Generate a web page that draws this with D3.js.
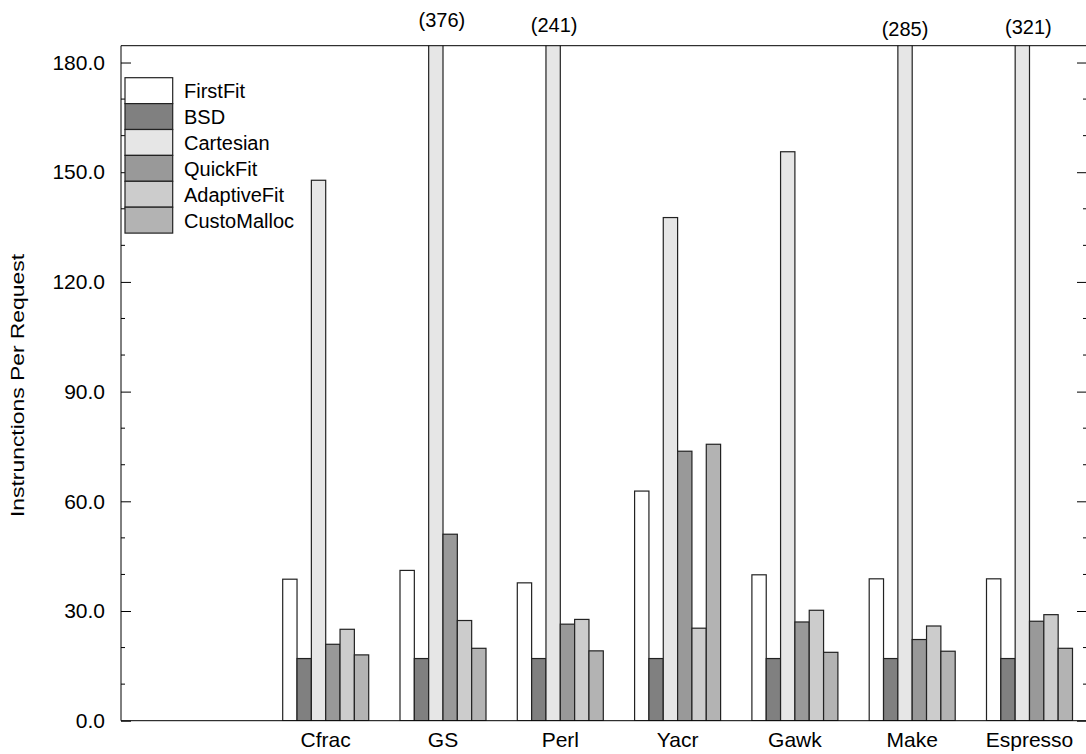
<!DOCTYPE html>
<html><head><meta charset="utf-8">
<script src="https://cdn.jsdelivr.net/npm/d3@7"></script>
<style>
body{margin:0;background:#fff}
text{font-family:"Liberation Sans",Arial,Helvetica,sans-serif;fill:#000}
</style>
</head><body>
<svg id="c" width="1086" height="754"></svg>
<script>
// ---- data ----
const categories = ["Cfrac","GS","Perl","Yacr","Gawk","Make","Espresso"];
const series = ["FirstFit","BSD","Cartesian","QuickFit","AdaptiveFit","CustoMalloc"];
const firstFit    = [38.7, 41.1, 37.7, 62.8, 39.9, 38.8, 38.8];
const bsd         = [17.0, 17.0, 17.0, 17.0, 17.0, 17.0, 17.0];
const cartesian   = [147.8, 376, 241, 137.6, 155.6, 285, 321];
const quickFit    = [20.9, 51.0, 26.4, 73.7, 27.0, 22.2, 27.2];
const adaptiveFit = [25.0, 27.4, 27.7, 25.3, 30.2, 25.9, 29.0];
const custoMalloc = [18.0, 19.8, 19.1, 75.6, 18.7, 19.0, 19.8];
const yTicks = [0, 30, 60, 90, 120, 150, 180];
const yLabel = "Instrunctions Per Request";

// ---- styles ----
const colors = ["#ffffff","#808080","#e6e6e6","#999999","#cccccc","#b3b3b3"];
const labelNudge = {GS:{dx:6,y:27}, Perl:{dx:1,y:32}, Make:{dx:0,y:36}, Espresso:{dx:6,y:34}};

const values = [firstFit, bsd, cartesian, quickFit, adaptiveFit, custoMalloc];
const table = categories.map((c,i)=>({cat:c, vals: series.map((s,j)=>({s, j, v: values[j][i]}))}));

const svg = d3.select("#c");
const L = 121, R = 1087, T = 45.7, B = 720.7;
const yMax = 184.6;
const y = d3.scaleLinear().domain([0, yMax]).range([B, T]);
const x = d3.scaleBand().domain(categories).range([267.05, 1088.15]).paddingInner(0.2668).paddingOuter(0.1334);
const xs = d3.scaleBand().domain(series).range([0, x.bandwidth()]);

svg.append("defs").append("clipPath").attr("id","plot")
  .append("rect").attr("x",L).attr("y",T).attr("width",R-L).attr("height",B-T);

// bars
const g = svg.append("g").attr("clip-path","url(#plot)");
g.selectAll("g.grp").data(table).join("g").attr("class","grp")
  .attr("transform", d=>`translate(${x(d.cat)},0)`)
  .selectAll("rect").data(d=>d.vals).join("rect")
  .attr("x", d=>xs(d.s)).attr("width", xs.bandwidth())
  .attr("y", d=>y(Math.min(d.v, yMax+5))).attr("height", d=>B - y(Math.min(d.v, yMax+5)))
  .attr("fill", d=>colors[d.j]).attr("stroke","#222").attr("stroke-width",1.2);

// overflow labels
table.forEach(d=>{
  d.vals.forEach(b=>{
    if (b.v > yMax) {
      const n = labelNudge[d.cat] || {dx:0,y:30};
      svg.append("text").attr("x", x(d.cat)+xs(b.s)+xs.bandwidth()/2+n.dx).attr("y", n.y)
        .attr("text-anchor","middle").attr("font-size",20).text(`(${b.v})`);
    }
  });
});

// frame
svg.append("line").attr("x1",L).attr("x2",R).attr("y1",T).attr("y2",T).attr("stroke","#000").attr("stroke-width",1);
svg.append("line").attr("x1",L).attr("x2",R).attr("y1",B).attr("y2",B).attr("stroke","#000").attr("stroke-width",1);

// y axis left (ticks inward)
const minor = d3.range(0, yMax, 10);
const axL = d3.axisLeft(y).tickValues(yTicks).tickSize(-10).tickPadding(16).tickFormat(d3.format(".1f"));
const gl = svg.append("g").attr("transform",`translate(${L},0)`).call(axL);
gl.select(".domain").attr("d",`M0,${T}V${B}`).attr("stroke","#000");
gl.selectAll(".tick text").attr("font-size",21).attr("font-family","Liberation Sans, Arial, sans-serif").attr("fill","#000");
gl.selectAll(".tick line").attr("stroke","#000");
svg.append("g").attr("transform",`translate(${L},0)`).selectAll("line").data(minor.filter(v=>!yTicks.includes(v))).join("line")
  .attr("x1",0).attr("x2",4).attr("y1",d=>y(d)).attr("y2",d=>y(d)).attr("stroke","#000");

// y axis right
const axR = d3.axisRight(y).tickValues(yTicks).tickSize(-10).tickFormat("");
const gr = svg.append("g").attr("transform",`translate(${R},0)`).call(axR);
gr.select(".domain").attr("d",`M0,${T}V${B}`).attr("stroke","#000");
gr.selectAll(".tick line").attr("stroke","#000");
svg.append("g").attr("transform",`translate(${R},0)`).selectAll("line").data(minor.filter(v=>!yTicks.includes(v))).join("line")
  .attr("x1",0).attr("x2",-4).attr("y1",d=>y(d)).attr("y2",d=>y(d)).attr("stroke","#000");

// x labels
const axB = d3.axisBottom(x).tickSize(0).tickPadding(11);
const gb = svg.append("g").attr("transform",`translate(0,${B})`).call(axB);
gb.select(".domain").remove();
gb.selectAll(".tick text").attr("font-size",21).attr("font-family","Liberation Sans, Arial, sans-serif").attr("fill","#000");

// y title
svg.append("text").attr("transform",`translate(24,385.5) rotate(-90)`)
  .attr("text-anchor","middle").attr("font-size",19)
  .attr("textLength",263).attr("lengthAdjust","spacingAndGlyphs").text(yLabel);

// legend
const lg = svg.append("g").attr("transform","translate(125,77.7)");
const rowH = 25.9;
series.forEach((s,i)=>{
  lg.append("rect").attr("x",0).attr("y",i*rowH).attr("width",47.7).attr("height",rowH)
    .attr("fill",colors[i]).attr("stroke","#222").attr("stroke-width",1.2);
  lg.append("text").attr("x",59).attr("y",i*rowH+rowH/2+7.5).attr("font-size",20).text(s);
});
</script>
</body></html>
